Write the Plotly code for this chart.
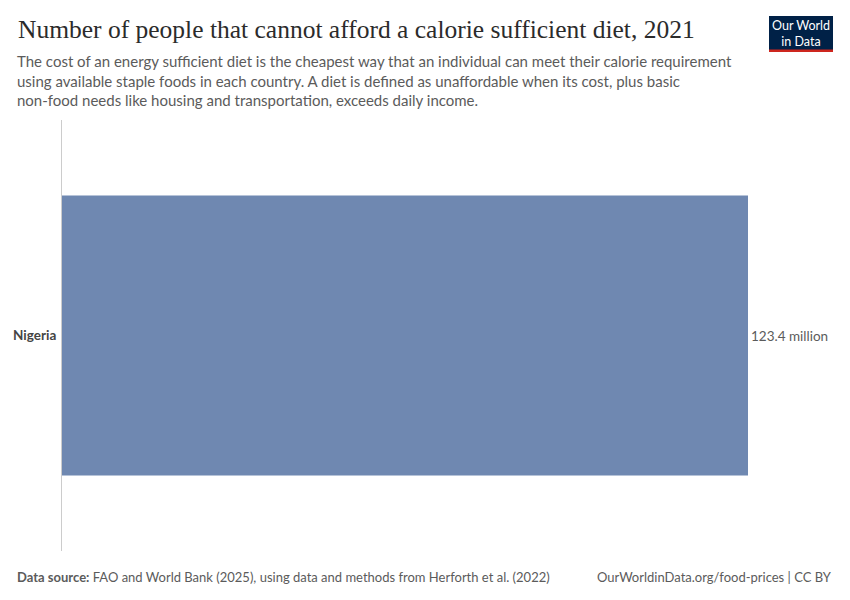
import plotly.graph_objects as go

countries = ["Nigeria"]
values = [123.4]  # millions
value_labels = ["123.4 million"]

# page body has an 8px margin; lay out in reference pixel coords shifted by OFF
OFF = 8
W, H = 850 - OFF, 600 - OFF
ML, MR, MT, MB = 62 - OFF, 102, 120 - OFF, 49
PW, PH = W - ML - MR, H - MT - MB

def px(x):
    return (x - OFF - ML) / PW

def py(y):
    return (H - MB - (y - OFF)) / PH

fig = go.Figure(go.Bar(
    x=values, y=countries, orientation="h",
    marker=dict(color="#6f88b1", line=dict(width=0)),
    text=value_labels, textposition="outside",
    textfont=dict(family="Lato", size=13.5, color="#5b5b5b"),
    cliponaxis=False, hoverinfo="skip",
))

fig.update_layout(
    width=W, height=H,
    margin=dict(l=ML, r=MR, t=MT, b=MB, autoexpand=False),
    paper_bgcolor="white", plot_bgcolor="white",
    bargap=0.35, showlegend=False,
    font=dict(family="Lato", color="#5b5b5b"),
    xaxis=dict(range=[0, max(values)], visible=False, fixedrange=True, automargin=False),
    yaxis=dict(showline=True, linecolor="#cccccc", linewidth=1, showgrid=False,
               ticks="", ticklabelstandoff=2, automargin=False,
               tickfont=dict(family="Lato", size=13.5, color="#444444", weight="bold")),
)

annotations = [
    dict(text="Number of people that cannot afford a calorie sufficient diet, 2021",
         x=px(16), y=py(30), xanchor="left", yanchor="middle",
         font=dict(family="Liberation Serif", size=25.5, color="#2b2b2b")),
    dict(text="The cost of an energy sufficient diet is the cheapest way that an individual can meet their calorie requirement<br>"
              "using available staple foods in each country. A diet is defined as unaffordable when its cost, plus basic<br>"
              "non-food needs like housing and transportation, exceeds daily income.",
         x=px(15), y=py(50), xanchor="left", yanchor="top", align="left",
         font=dict(family="Lato", size=15, color="#5b5b5b")),
    dict(text="<b>Data source:</b> FAO and World Bank (2025), using data and methods from Herforth et al. (2022)",
         x=px(15), y=py(577), xanchor="left", yanchor="middle",
         font=dict(family="Lato", size=13, color="#5b5b5b")),
    dict(text="OurWorldinData.org/food-prices | CC BY",
         x=px(834), y=py(577), xanchor="right", yanchor="middle",
         font=dict(family="Lato", size=13, color="#5b5b5b")),
    dict(text="Our World<br>in Data",
         x=px(801), y=py(33), xanchor="center", yanchor="middle",
         font=dict(family="Lato", size=12.5, color="white"), showarrow=False),
]
for a in annotations:
    a.update(xref="paper", yref="paper", showarrow=False)
fig.update_layout(annotations=annotations)

fig.add_shape(type="rect", xref="paper", yref="paper",
              x0=px(769), x1=px(833), y0=py(52), y1=py(16),
              fillcolor="#002147", line=dict(width=0), layer="below")
fig.add_shape(type="rect", xref="paper", yref="paper",
              x0=px(769), x1=px(833), y0=py(52), y1=py(49.5),
              fillcolor="#ce261e", line=dict(width=0), layer="below")

fig.write_html("out.html")
